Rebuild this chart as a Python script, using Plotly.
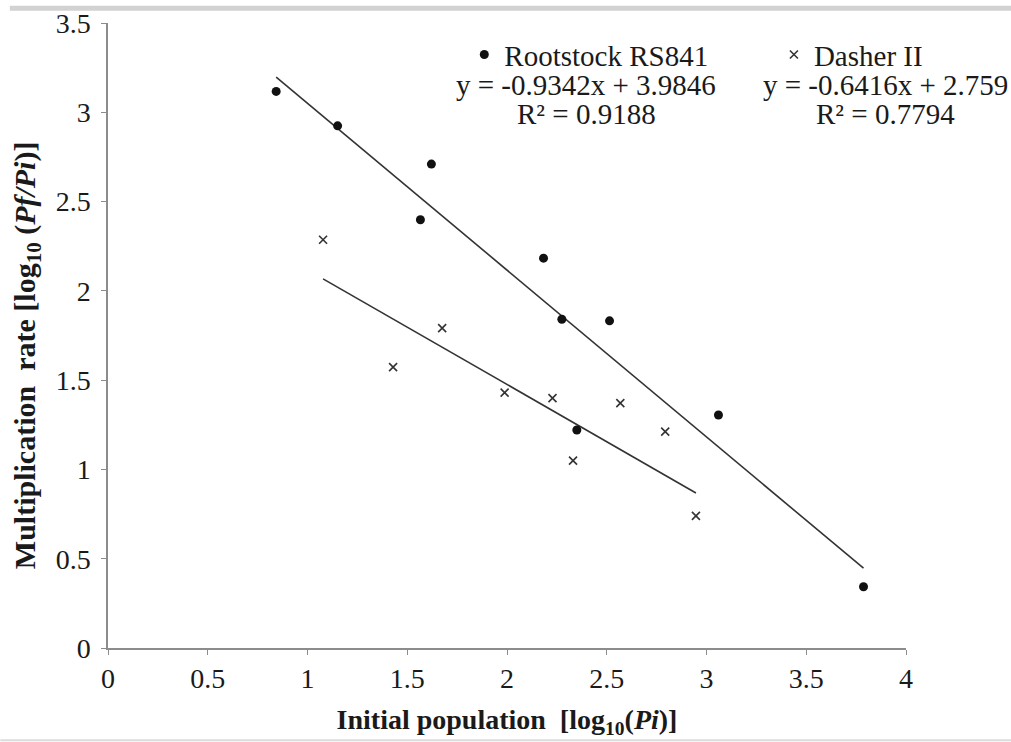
import plotly.graph_objects as go

# ---- data ----
rs_x = [0.843, 1.151, 1.566, 1.621, 2.183, 2.275, 2.350, 2.514, 3.060, 3.787]
rs_y = [3.117, 2.924, 2.398, 2.710, 2.183, 1.841, 1.221, 1.832, 1.305, 0.343]
dh_x = [1.078, 1.429, 1.675, 1.988, 2.228, 2.331, 2.568, 2.793, 2.947]
dh_y = [2.286, 1.573, 1.791, 1.430, 1.399, 1.049, 1.371, 1.212, 0.740]

rs_fit = (-0.9342, 3.9846, 0.9188)
dh_fit = (-0.6416, 2.759, 0.7794)

x_ticks = [0, 0.5, 1, 1.5, 2, 2.5, 3, 3.5, 4]
x_tick_text = ["0", "0.5", "1", "1.5", "2", "2.5", "3", "3.5", "4"]
y_ticks = [0, 0.5, 1, 1.5, 2, 2.5, 3, 3.5]
y_tick_text = ["0", "0.5", "1", "1.5", "2", "2.5", "3", "3.5"]

x_title = "<b>Initial population  [log<sub>10</sub>(<i>Pi</i>)]</b>"
y_title = "<b>Multiplication  rate [log<sub>10</sub> (<i>Pf/Pi</i>)]</b>"

FONT = "Liberation Serif, Times New Roman, serif"
AX = "#8c8c8c"
TXT = "#1a1a1a"

fig = go.Figure()

def fit_line(xs, fit):
    lo, hi = min(xs), max(xs)
    return [lo, hi], [fit[0] * lo + fit[1], fit[0] * hi + fit[1]]

lx, ly = fit_line(rs_x, rs_fit)
fig.add_trace(go.Scatter(x=lx, y=ly, mode="lines", showlegend=False,
                         line=dict(color="#333333", width=1.6), hoverinfo="skip"))
lx, ly = fit_line(dh_x, dh_fit)
fig.add_trace(go.Scatter(x=lx, y=ly, mode="lines", showlegend=False,
                         line=dict(color="#333333", width=1.6), hoverinfo="skip"))

fig.add_trace(go.Scatter(x=rs_x, y=rs_y, mode="markers", name="Rootstock RS841",
                         legend="legend",
                         marker=dict(symbol="circle", size=9, color="#111111")))
fig.add_trace(go.Scatter(x=dh_x, y=dh_y, mode="markers", name="Dasher II",
                         legend="legend2",
                         marker=dict(symbol="x-thin", size=8, color="#333333",
                                     line=dict(width=1.6, color="#333333"))))

def eq_text(fit):
    return "y = %sx + %s" % (fit[0], fit[1])

ann = [
    dict(x=0.5986, y=0.9002, text=eq_text(rs_fit)),
    dict(x=0.5999, y=0.8545, text="R² = %s" % rs_fit[2]),
    dict(x=0.9747, y=0.9002, text=eq_text(dh_fit)),
    dict(x=0.9747, y=0.8545, text="R² = %s" % dh_fit[2]),
]
for a in ann:
    fig.add_annotation(xref="paper", yref="paper", x=a["x"], y=a["y"], text=a["text"],
                       showarrow=False, xanchor="center", yanchor="middle",
                       font=dict(family=FONT, size=29, color=TXT))

# y-axis title (placed as rotated text, slightly below the axis centre as in the reference)
fig.add_annotation(xref="paper", yref="paper", x=-0.1021, y=0.4678, text=y_title,
                   textangle=-90, showarrow=False, xanchor="center", yanchor="middle",
                   font=dict(family=FONT, size=30, color=TXT))

leg_common = dict(orientation="h", yanchor="middle", xanchor="left",
                  bgcolor="rgba(0,0,0,0)", borderwidth=0,
                  font=dict(family=FONT, size=29, color=TXT))

fig.update_layout(
    width=1011, height=742,
    margin=dict(l=107.5, r=105.3, t=23.3, b=93.7),
    paper_bgcolor="white", plot_bgcolor="white",
    font=dict(family=FONT, size=27, color=TXT),
    showlegend=True,
    legend=dict(x=0.4465, y=0.9494, **leg_common),
    legend2=dict(x=0.8345, y=0.9494, **leg_common),
    xaxis=dict(range=[0, 4], tickvals=x_ticks, ticktext=x_tick_text, automargin=False,
               showgrid=False, zeroline=False, showline=True, linecolor=AX, linewidth=1.5,
               ticks="outside", ticklen=5, tickcolor=AX, tickwidth=1.3,
               tickfont=dict(family=FONT, size=28, color=TXT),
               title=dict(text=x_title, font=dict(family=FONT, size=28, color=TXT), standoff=16)),
    yaxis=dict(range=[0, 3.5], tickvals=y_ticks, ticktext=y_tick_text, automargin=False,
               showgrid=False, zeroline=False, showline=True, linecolor=AX, linewidth=1.5,
               ticks="outside", ticklen=5, tickcolor=AX, tickwidth=1.3, ticklabelstandoff=5,
               tickfont=dict(family=FONT, size=28, color=TXT)),
)

# light grey frame lines of the original picture (top and bottom)
fig.add_shape(type="line", xref="paper", yref="paper", x0=-0.123, x1=1.135,
              y0=1.0237, y1=1.0237, line=dict(color="#d2d2d2", width=5))
fig.add_shape(type="line", xref="paper", yref="paper", x0=-0.135, x1=1.135,
              y0=-0.1475, y1=-0.1475, line=dict(color="#dcdcdc", width=2))

fig.write_html("out.html", config={"displayModeBar": False},
               post_script="document.body.style.margin='0px';")
